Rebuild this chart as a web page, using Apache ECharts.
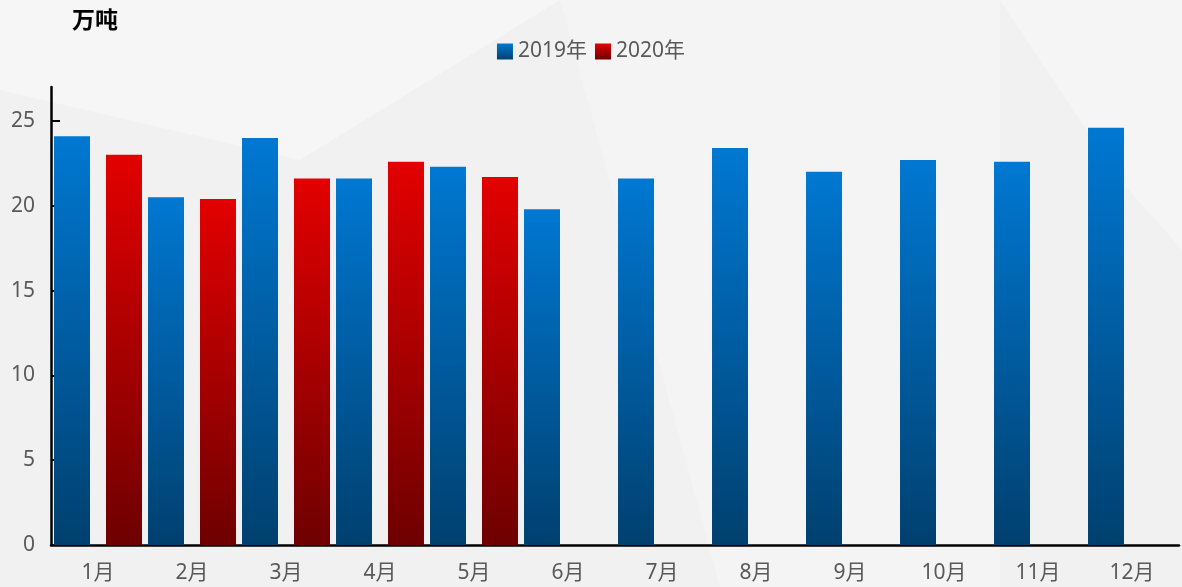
<!DOCTYPE html>
<html>
<head>
	<meta charset="utf-8" />
	<title>月度产量</title>
	<script type="text/javascript" src="https://cdn.jsdelivr.net/npm/echarts@6/dist/echarts.min.js"></script>
	<style type="text/css">
		html, body { margin: 0; padding: 0; }
		#container { width: 1182px; height: 587px; }
	</style>
</head>
<body>
<div id="container"></div>
<script type="text/javascript">
	var months = ['1月', '2月', '3月', '4月', '5月', '6月', '7月', '8月', '9月', '10月', '11月', '12月'];
	var data2019 = [24.1, 20.5, 24.0, 21.6, 22.3, 19.8, 21.6, 23.4, 22.0, 22.7, 22.6, 24.6];
	var data2020 = [23.0, 20.4, 21.6, 22.6, 21.7];
	var yTicks = [0, 5, 10, 15, 20, 25];

	var chart = echarts.init(document.getElementById('container'));

	var fontFam = '"Noto Sans", "Noto Sans CJK SC", sans-serif';

	function grad(top, bottom) {
		return new echarts.graphic.LinearGradient(0, 0, 0, 1, [
			{ offset: 0, color: top },
			{ offset: 1, color: bottom }
		]);
	}

	var options = {
		backgroundColor: '#f1f1f1',
		animation: false,
		graphic: [
			// 背景装饰
			{ type: 'polygon', z: -10, silent: true, shape: { points: [[0, 0], [560, 0], [300, 160], [0, 90]] }, style: { fill: '#f6f6f6' } },
			{ type: 'polygon', z: -10, silent: true, shape: { points: [[560, 0], [1000, 0], [1000, 587], [720, 587]] }, style: { fill: '#f4f4f4' } },
			{ type: 'polygon', z: -10, silent: true, shape: { points: [[1000, 0], [1182, 0], [1182, 250], [1120, 180]] }, style: { fill: '#f5f5f5' } },
			{
				type: 'text', left: 72, top: 8,
				style: { text: '万吨', fill: '#000', font: 'bold 23px "Noto Sans CJK SC", sans-serif' }
			}
		],
		legend: {
			data: ['2019年', '2020年'],
			top: 36,
			left: 'center',
			itemWidth: 16,
			itemHeight: 16,
			itemGap: 8,
			icon: 'rect',
			textStyle: { color: '#595959', fontSize: 21, fontFamily: fontFam }
		},
		grid: { left: 51, right: 3, top: 87, bottom: 42 },
		xAxis: {
			type: 'category',
			data: months,
			axisLine: { lineStyle: { color: '#000', width: 2.5 } },
			axisTick: { inside: true, length: 9, lineStyle: { color: '#000', width: 2 } },
			axisLabel: { color: '#595959', fontSize: 21, fontFamily: fontFam, margin: 18 }
		},
		yAxis: {
			type: 'value',
			min: 0,
			max: 27,
			interval: 5,
			splitLine: { show: false },
			axisLine: { show: true, lineStyle: { color: '#000', width: 2.5 } },
			axisTick: { show: true, inside: true, length: 9, customValues: yTicks, lineStyle: { color: '#000', width: 2 } },
			axisLabel: { color: '#595959', fontSize: 21, fontFamily: fontFam, margin: 16, customValues: yTicks }
		},
		series: [
			{
				name: '2019年',
				type: 'bar',
				data: data2019,
				barWidth: 36,
				barGap: '44.4%',
				itemStyle: { color: grad('#0078d2', '#00406f') }
			},
			{
				name: '2020年',
				type: 'bar',
				data: data2020,
				barWidth: 36,
				itemStyle: { color: grad('#e30000', '#6e0000') }
			}
		]
	};

	chart.setOption(options);
</script>
</body>
</html>
